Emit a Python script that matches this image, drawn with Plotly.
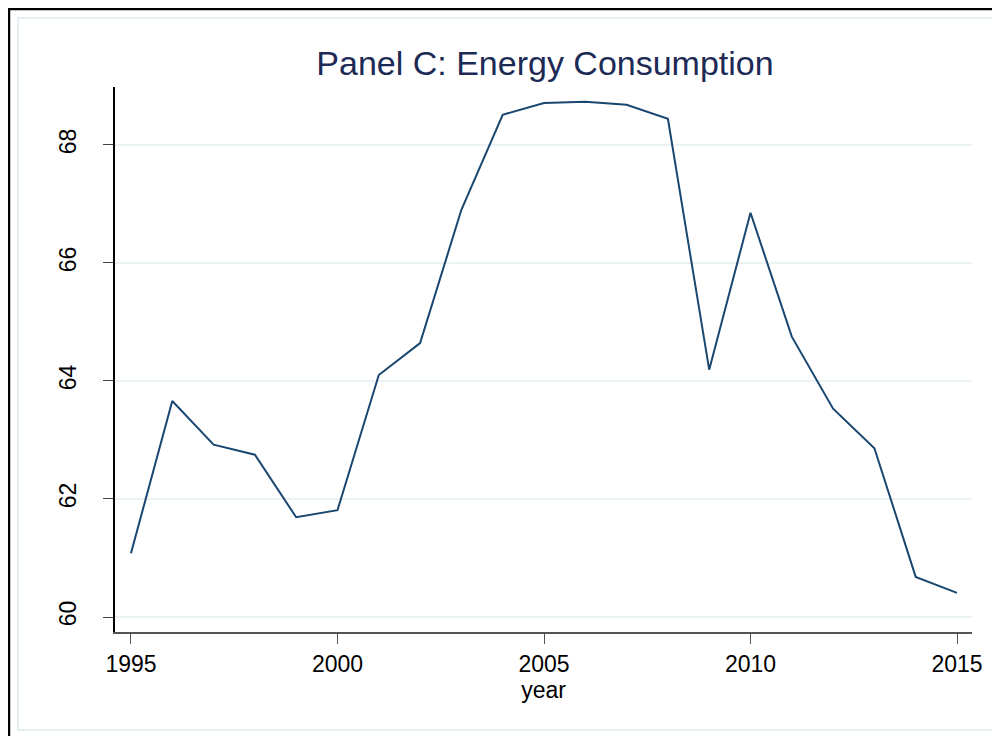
import plotly.graph_objects as go

years = list(range(1995, 2016))
energy = [61.08, 63.66, 62.92, 62.75, 61.69, 61.81, 64.10, 64.64, 66.90, 68.51,
          68.71, 68.73, 68.68, 68.44, 64.19, 66.85, 64.75, 63.53, 62.86, 60.68, 60.41]
x_ticks = [1995, 2000, 2005, 2010, 2015]
y_ticks = [60, 62, 64, 66, 68]

fig = go.Figure()
fig.add_trace(go.Scatter(x=years, y=energy, mode='lines',
	line=dict(color='#1a476f', width=2), showlegend=False))

# page body adds an 8px offset, so the figure is 992x728
fig.update_layout(
	width=992, height=728,
	margin=dict(l=107, r=28, t=79, b=104),
	paper_bgcolor='white', plot_bgcolor='white',
	font=dict(family='Liberation Sans, Arial, sans-serif', size=23, color='black'),
	title=dict(text='Panel C: Energy Consumption', x=(545 - 8) / 992, xanchor='center',
		y=1 - (63 - 8) / 728, yanchor='middle',
		font=dict(size=34, color='#1c2a55')),
)
fig.update_xaxes(range=[1994.613, 2015.363], tickvals=x_ticks, ticks='outside',
	ticklen=10, tickcolor='#555555', showline=True, linecolor='#555555', linewidth=2,
	showgrid=False, zeroline=False,
	title=dict(text='year', standoff=2, font=dict(size=23)))
fig.update_yaxes(range=[59.746, 68.98], tickvals=y_ticks, ticks='outside',
	ticklen=10, tickcolor='#444444', showline=True, linecolor='black', linewidth=1.5,
	showgrid=True, gridcolor='#eaf2f3', gridwidth=2, zeroline=False,
	tickangle=-90, ticklabelstandoff=18)

# outer frame (left and top black edges) and inner light border
fig.add_shape(type='rect', xref='paper', yref='paper',
	x0=-0.1132, x1=1.0292, y0=-0.1798, y1=1.1266,
	line=dict(color='#e6eef1', width=2), layer='below')
fig.add_shape(type='line', xref='paper', yref='paper',
	x0=-0.1237, x1=-0.1237, y0=-0.20, y1=1.1450, line=dict(color='black', width=2.5))
fig.add_shape(type='line', xref='paper', yref='paper',
	x0=-0.1249, x1=1.05, y0=1.1431, y1=1.1431, line=dict(color='black', width=2.5))

fig.write_html("out.html")
